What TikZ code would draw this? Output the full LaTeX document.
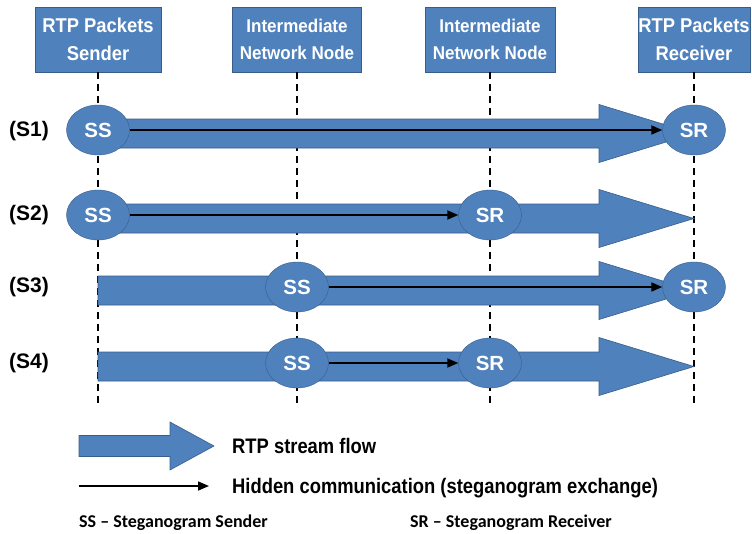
\documentclass[tikz,border=0pt]{standalone}
\usepackage{fontspec}
\setmainfont{Liberation Sans}
\newfontfamily\hdrfont[FakeStretch=0.92]{Liberation Sans}
\newfontfamily\legfont[FakeStretch=0.875]{Liberation Sans}
\newfontfamily\notefont{Carlito}
\usepackage{tikz}
\usetikzlibrary{shapes.geometric,arrows.meta,calc,positioning}
\definecolor{rtpblue}{RGB}{79,129,189}
\definecolor{rtpedge}{RGB}{56,93,138}
\tikzset{
    box/.style ={rectangle, draw=rtpedge, fill=rtpblue, text=white, align=center, minimum height=65pt, inner sep=0pt},
    party/.style={ellipse, draw=rtpedge, fill=rtpblue, text=white, minimum width=63pt, minimum height=50pt, inner sep=0pt, font=\bfseries\fontsize{20.5}{24}\selectfont},
    lifeline/.style={dash pattern=on 7pt off 5pt, line width=1.2pt},
    flow/.style={draw=rtpedge, fill=rtpblue, line width=0.6pt},
    hidden/.style={-{Triangle[length=11pt,width=9pt]}, line width=1.8pt},
    rowlab/.style={font=\bfseries\fontsize{21}{24}\selectfont},
    legend/.style={anchor=base west, inner sep=0pt, font=\legfont\bfseries\fontsize{21}{24}\selectfont},
    note/.style={anchor=base west, inner sep=0pt, font=\notefont\bfseries\fontsize{18}{22}\selectfont}
}
% tail, tip, half shaft, half head, head length
\newcommand{\flowarrow}[5]{%
  \draw[flow] let \p1=(#1), \p2=(#2) in
    (\x1,\y1+#3) -- (\x2-#5,\y1+#3) -- (\x2-#5,\y1+#4) -- (\x2,\y2)
    -- (\x2-#5,\y1-#4) -- (\x2-#5,\y1-#3) -- (\x1,\y1-#3) -- cycle;}

\begin{document}
\begin{tikzpicture}[x=1pt, y=-1pt]
    \useasboundingbox (0,0) rectangle (752,533);

    \node[box, minimum width=126pt, font=\hdrfont\bfseries\fontsize{20}{28}\selectfont] (snd) at (98,39.5) {RTP Packets\\Sender};
    \node[box, minimum width=129pt, font=\hdrfont\bfseries\fontsize{18.5}{27}\selectfont] (int1) at (297,39.5) {Intermediate\\Network Node};
    \node[box, minimum width=130pt, font=\hdrfont\bfseries\fontsize{18.5}{27}\selectfont] (int2) at (490,39.5) {Intermediate\\Network Node};
    \node[box, minimum width=112pt, font=\hdrfont\bfseries\fontsize{20}{28}\selectfont] (rcv) at (694,39.5) {RTP Packets\\Receiver};

    \coordinate (bottom) at (0,408);
    \foreach \n in {snd,int1,int2,rcv}
        \draw[lifeline] (\n.south) -- (\n.south |- bottom);

    % RTP streams
    \coordinate (f1a) at (98,133.5);  \coordinate (f1b) at (694,133.5);
    \coordinate (f2a) at (98,218.5);  \coordinate (f2b) at (694,218.5);
    \coordinate (f3a) at (98,290.5);  \coordinate (f3b) at (694,290.5);
    \coordinate (f4a) at (98,366.5);  \coordinate (f4b) at (694,366.5);
    \foreach \i in {1,...,4}
        \flowarrow{f\i a}{f\i b}{14.5pt}{29pt}{95pt};

    \node[rowlab] (s1) at (29,131) {(S1)};
    \node[rowlab] (s2) at (29,215) {(S2)};
    \node[rowlab] (s3) at (29,287) {(S3)};
    \node[rowlab] (s4) at (29,363) {(S4)};

    \node[party] (ss1) at (98,130) {SS};
    \node[party] (sr1) at (694,130) {SR};
    \node[party] (ss2) at (98,215) {SS};
    \node[party] (sr2) at (490,215) {SR};
    \node[party] (ss3) at (297,287) {SS};
    \node[party] (sr3) at (694,287) {SR};
    \node[party] (ss4) at (297,363) {SS};
    \node[party] (sr4) at (490,363) {SR};

    \foreach \i in {1,...,4}
        \draw[hidden] (ss\i.east) -- (sr\i.west);

    % legend
    \coordinate (lga) at (79,446);  \coordinate (lgb) at (214,446);
    \flowarrow{lga}{lgb}{10.5pt}{24pt}{44pt};
    \node[legend] (lgtxt) at (232,453) {RTP stream flow};
    \coordinate (lha) at (79,486);  \coordinate (lhb) at (209,486);
    \draw[hidden, line width=1.5pt] (lha) -- (lhb);
    \node[legend] (lhtxt) at (232,493) {Hidden communication (steganogram exchange)};
    \node[note] (ssnote) at (79,527) {SS – Steganogram Sender};
    \node[note] (srnote) at (410,527) {SR – Steganogram Receiver};
\end{tikzpicture}
\end{document}
